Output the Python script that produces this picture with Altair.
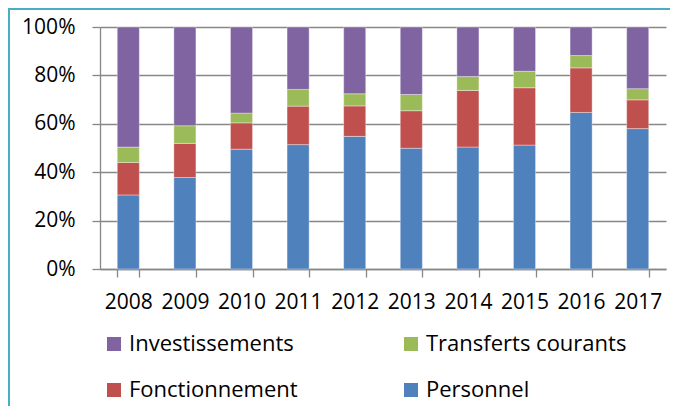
import altair as alt
import pandas as pd

years = ["2008", "2009", "2010", "2011", "2012", "2013", "2014", "2015", "2016", "2017"]
personnel = [30.6, 37.8, 49.5, 51.4, 54.8, 49.9, 50.4, 51.2, 64.7, 58.0]
fonctionnement = [13.4, 14.1, 10.9, 15.9, 12.6, 15.5, 23.4, 23.7, 18.4, 11.9]
transferts = [6.4, 7.3, 4.0, 6.9, 5.0, 6.7, 5.7, 6.8, 5.1, 4.6]
investissements = [49.6, 40.8, 35.6, 25.8, 27.6, 27.9, 20.5, 18.3, 11.8, 25.5]

series_names = ["Personnel", "Fonctionnement", "Transferts courants", "Investissements"]
series_values = [personnel, fonctionnement, transferts, investissements]
# legend fills column by column: col 1 = Investissements, Fonctionnement; col 2 = Transferts, Personnel
legend_order = ["Investissements", "Fonctionnement", "Transferts courants", "Personnel"]
legend_colors = ["#8064A2", "#C0504D", "#9BBB59", "#4F81BD"]

rows = []
for k, (name, vals) in enumerate(zip(series_names, series_values)):
    for y, v in zip(years, vals):
        rows.append({"year": y, "series": name, "value": v, "stackorder": k})
df = pd.DataFrame(rows)

FONT = "Open Sans"
GRAY = "#878787"

bars = alt.Chart(df).mark_bar(stroke="#ffffff", strokeWidth=0.6, strokeOpacity=0.6).encode(
    x=alt.X("year:N", title=None,
            scale=alt.Scale(paddingInner=0.61, paddingOuter=0.305),
            axis=alt.Axis(labelAngle=0, labelFontSize=21, labelFont=FONT, labelColor="#000000",
                          tickBand="extent", tickSize=8, tickColor=GRAY, tickWidth=1.3,
                          domainColor=GRAY, domainWidth=1.3, labelPadding=14,
                          labelOverlap=False, labelFlush=False, grid=False)),
    y=alt.Y("value:Q", title=None, stack="normalize",
            scale=alt.Scale(domain=[0, 1]),
            axis=alt.Axis(format="%", values=[0, 0.2, 0.4, 0.6, 0.8, 1.0],
                          labelFontSize=21, labelFont=FONT, labelColor="#000000",
                          tickSize=8, tickColor=GRAY, tickWidth=1.3,
                          domainColor=GRAY, domainWidth=1.3, labelPadding=17,
                          grid=True, gridColor=GRAY, gridWidth=1.3)),
    color=alt.Color("series:N", title=None,
                    scale=alt.Scale(domain=legend_order, range=legend_colors),
                    legend=alt.Legend(orient="none", legendX=3, legendY=306, columns=2,
                                      columnPadding=102, rowPadding=24,
                                      symbolType="square", symbolSize=196, symbolStrokeWidth=0,
                                      symbolOpacity=1,
                                      labelFontSize=22, labelFont=FONT, labelColor="#000000",
                                      labelOffset=4, labelLimit=400)),
    order=alt.Order("stackorder:Q", sort="ascending"),
)

left_border = alt.Chart(alt.Data(values=[{"a": 0}])).mark_rule(color="#4BACC6", strokeWidth=2).encode(
    x=alt.value(-91), y=alt.value(-19), y2=alt.value(380)
)
top_border = alt.Chart(alt.Data(values=[{"a": 0}])).mark_rule(color="#4BACC6", strokeWidth=2).encode(
    x=alt.value(-92), x2=alt.value(580), y=alt.value(-18)
)

chart = alt.layer(bars, left_border, top_border).properties(
    width=566, height=242,
    autosize=alt.AutoSizeParams(type="none"),
    padding={"left": 92, "top": 19, "right": 4, "bottom": 137},
).configure_view(stroke=None)

chart.save("out.html", embed_options={"renderer": "svg", "actions": False})
